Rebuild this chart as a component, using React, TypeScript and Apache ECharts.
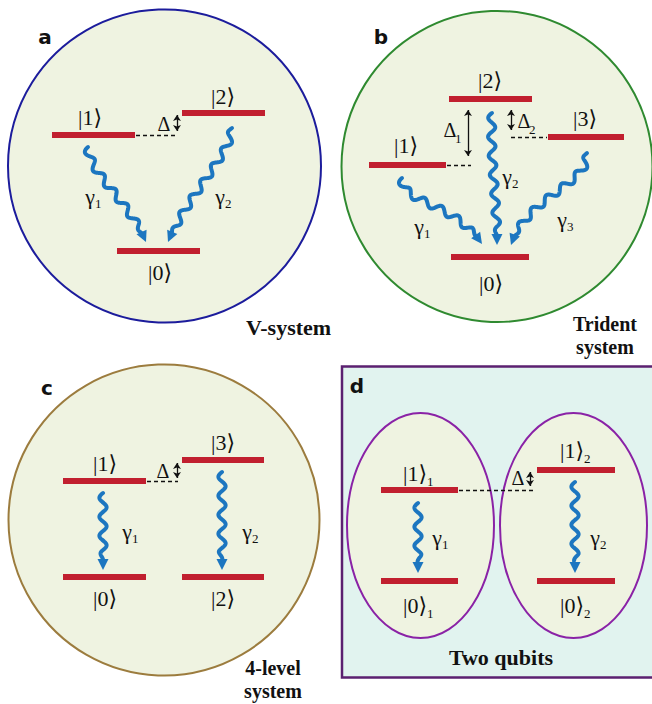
import React, { useEffect, useRef } from "react";
import * as echarts from "echarts";

type P = [number, number];

const W = 652;
const H = 704;

// energy levels: [x1, x2, y]
const LEVELS: [number, number, number][] = [
  [52, 135, 135], [182, 265, 113], [117, 200, 251],
  [369, 446, 165], [449, 532, 99], [548, 624, 137], [451, 529, 257],
  [63, 146, 481], [182, 264, 460], [63, 146, 577], [182, 264, 577],
  [381, 458, 490], [537, 615, 470], [381, 458, 581], [537, 615, 581],
];
// dashed guides: [x1, x2, y]
const DASHES: [number, number, number][] = [
  [136, 178, 135], [447, 471, 165], [511, 547, 137], [147, 178, 481], [459, 536, 490],
];
// detuning double arrows: [x, y1, y2]
const GAPS: [number, number, number][] = [
  [177, 113, 133], [468, 108, 158], [511, 108, 132], [177, 461, 480], [530, 470, 488],
];
// decay arrows: cubic centre lines [start, ctrl1, ctrl2, tip]
const DECAYS: P[][] = [
  [[88, 147], [88, 172], [128, 200], [146, 242]],
  [[232, 128], [232, 152], [186, 198], [168, 242]],
  [[402, 178], [402, 205], [452, 200], [482, 244]],
  [[492, 113], [490, 160], [497, 200], [497, 245]],
  [[587, 153], [589, 185], [528, 195], [511, 245]],
  [[103, 493], [103, 520], [103, 545], [103, 570]],
  [[222, 472], [222, 505], [222, 540], [222, 570]],
  [[418, 503], [418, 525], [418, 550], [418, 573]],
  [[575, 482], [575, 510], [575, 545], [575, 573]],
];
// ket labels: [state, subscript, x, y]
const KETS: [string, string, number, number][] = [
  ["1", "", 90, 117], ["2", "", 223, 96], ["0", "", 160, 272],
  ["2", "", 490, 80], ["3", "", 585, 118], ["1", "", 406, 145], ["0", "", 491, 283],
  ["1", "", 105, 463], ["3", "", 223, 442], ["0", "", 105, 598], ["2", "", 223, 598],
  ["1", "1", 415, 473], ["1", "2", 572, 450], ["0", "1", 415, 605], ["0", "2", 572, 605],
];
// gamma labels: [subscript, x, y]
const GAMMAS: [string, number, number][] = [
  ["1", 90, 196], ["2", 220, 196],
  ["1", 419, 226], ["2", 507, 176], ["3", 562, 219],
  ["1", 127, 531], ["2", 247, 531],
  ["1", 437, 537], ["2", 595, 537],
];
// delta labels: [subscript, x, y]
const DELTAS: [string, number, number][] = [
  ["", 164, 124], ["1", 450, 130], ["2", 524, 121], ["", 163, 471], ["", 518, 478],
];
const LETTERS: [string, number, number][] = [
  ["a", 45, 37], ["b", 381, 37], ["c", 47, 388], ["d", 357, 386],
];
// captions: [text, x, y, align, size]
const CAPTIONS: [string, number, number, string, number][] = [
  ["V-system", 246, 327, "left", 22],
  ["Trident", 605, 324, "center", 20], ["system", 605, 347, "center", 20],
  ["4-level", 273, 668, "center", 20], ["system", 273, 691, "center", 20],
  ["Two qubits", 501, 657, "center", 22],
];

const RED = "#c11f2f";
const BLUE = "#1c76c0";
const FILL = "#eff3e1";
const SERIF = "'Liberation Serif', 'DejaVu Serif', serif";
const SANS = "'DejaVu Sans', 'Noto Sans', sans-serif";

function bez(p: P[], t: number): P {
  const u = 1 - t;
  const a = u * u * u, b = 3 * u * u * t, c = 3 * u * t * t, d = t * t * t;
  return [
    a * p[0][0] + b * p[1][0] + c * p[2][0] + d * p[3][0],
    a * p[0][1] + b * p[1][1] + c * p[2][1] + d * p[3][1],
  ];
}

function wavy(p: P[]) {
  const N = 300;
  const pts: P[] = [];
  const cum: number[] = [0];
  for (let i = 0; i <= N; i++) pts.push(bez(p, i / N));
  for (let i = 1; i <= N; i++) {
    cum.push(cum[i - 1] + Math.hypot(pts[i][0] - pts[i - 1][0], pts[i][1] - pts[i - 1][1]));
  }
  const L = cum[N];
  const tip = pts[N];
  let dx = pts[N][0] - pts[N - 6][0], dy = pts[N][1] - pts[N - 6][1];
  const dl = Math.hypot(dx, dy);
  dx /= dl; dy /= dl;
  const end: P = [tip[0] - dx * 5.5, tip[1] - dy * 5.5];
  const amp = 3.6, lam = 19;
  const out: P[] = [];
  for (let i = 0; i <= N; i++) {
    const s = cum[i];
    if (s > L - 7) break;
    const j = Math.min(i + 1, N), k = Math.max(i - 1, 0);
    let tx = pts[j][0] - pts[k][0], ty = pts[j][1] - pts[k][1];
    const tl = Math.hypot(tx, ty) || 1;
    tx /= tl; ty /= tl;
    const taper = Math.max(0, Math.min(1, (L - 9 - s) / 10));
    const o = amp * Math.sin((2 * Math.PI * s) / lam) * taper;
    out.push([pts[i][0] - ty * o, pts[i][1] + tx * o]);
  }
  out.push(end);
  const head: P[] = [[end[0] - dx * 3, end[1] - dy * 3], end];
  return { line: out, head };
}

function txt(text: string, x: number, y: number, size: number, family: string, weight = "normal", align = "center") {
  return {
    type: "text",
    z: 100,
    style: {
      text, x, y,
      fontSize: size, fontFamily: family, fontWeight: weight,
      fill: "#111",
      align, verticalAlign: "middle",
      textAlign: align, textVerticalAlign: "middle",
    },
  };
}

export default function App() {
  const ref = useRef<HTMLDivElement>(null);
  useEffect(() => {
    if (!ref.current) return;
    const chart = echarts.init(ref.current, null, { renderer: "svg" });
    const waves = DECAYS.map(wavy);

    const graphics: any[] = [
      { type: "circle", z: 0, shape: { cx: 164.5, cy: 166, r: 156.5 }, style: { fill: FILL, stroke: "#1c1c9c", lineWidth: 2 } },
      { type: "circle", z: 0, shape: { cx: 497, cy: 166.5, r: 155.5 }, style: { fill: FILL, stroke: "#2f8a30", lineWidth: 2 } },
      { type: "circle", z: 0, shape: { cx: 164, cy: 520, r: 155.5 }, style: { fill: FILL, stroke: "#9c7c3e", lineWidth: 2 } },
      { type: "rect", z: 0, shape: { x: 342, y: 366.5, width: 330, height: 311 }, style: { fill: "#e1f3ef", stroke: "#5b2070", lineWidth: 2.5 } },
      { type: "ellipse", z: 1, shape: { cx: 420.5, cy: 525.5, rx: 73.5, ry: 112.5 }, style: { fill: FILL, stroke: "#8a22a6", lineWidth: 2 } },
      { type: "ellipse", z: 1, shape: { cx: 573.5, cy: 525.5, rx: 73.5, ry: 112.5 }, style: { fill: FILL, stroke: "#8a22a6", lineWidth: 2 } },
    ];
    KETS.forEach(([n, sub, x, y]) => {
      graphics.push(txt("|" + n + "\u27E9", x, y, 22, SERIF));
      if (sub) graphics.push(txt(sub, x + 12, y + 8, 13, SERIF, "normal", "left"));
    });
    GAMMAS.forEach(([sub, x, y]) => {
      graphics.push(txt("\u03B3", x, y, 22, SERIF));
      graphics.push(txt(sub, x + 5, y + 7, 13, SERIF, "normal", "left"));
    });
    DELTAS.forEach(([sub, x, y]) => {
      graphics.push(txt("\u0394", x, y, 20, SERIF));
      if (sub) graphics.push(txt(sub, x + 5, y + 8, 13, SERIF, "normal", "left"));
    });
    LETTERS.forEach(([t, x, y]) => graphics.push(txt(t, x, y, 20, SANS, "bold")));
    CAPTIONS.forEach(([t, x, y, a, s]) => graphics.push(txt(t, x, y, s, SERIF, "bold", a)));

    chart.setOption({
      animation: false,
      grid: { left: 0, right: 0, top: 0, bottom: 0 },
      xAxis: { type: "value", min: 0, max: W, show: false },
      yAxis: { type: "value", min: 0, max: H, inverse: true, show: false },
      graphic: graphics,
      series: [
        {
          type: "lines", coordinateSystem: "cartesian2d", silent: true, z: 5,
          symbol: "none",
          lineStyle: { color: RED, width: 6, opacity: 1, cap: "butt" },
          data: LEVELS.map(([x1, x2, y]) => ({ coords: [[x1, y], [x2, y]] })),
        },
        {
          type: "lines", coordinateSystem: "cartesian2d", silent: true, z: 5,
          symbol: "none",
          lineStyle: { color: "#111", width: 1.3, opacity: 1, type: [4, 3] },
          data: DASHES.map(([x1, x2, y]) => ({ coords: [[x1, y], [x2, y]] })),
        },
        {
          type: "lines", coordinateSystem: "cartesian2d", silent: true, z: 5,
          symbol: ["arrow", "arrow"], symbolSize: 6,
          lineStyle: { color: "#111", width: 1.3, opacity: 1 },
          data: GAPS.map(([x, y1, y2]) => ({ coords: [[x, y1 + 2], [x, y2 - 2]] })),
        },
        {
          type: "lines", coordinateSystem: "cartesian2d", silent: true, z: 6,
          polyline: true, symbol: "none",
          lineStyle: { color: BLUE, width: 4, opacity: 1, cap: "round", join: "round" },
          data: waves.map((w) => ({ coords: w.line })),
        },
        {
          type: "lines", coordinateSystem: "cartesian2d", silent: true, z: 6,
          symbol: ["none", "triangle"], symbolSize: 11,
          lineStyle: { color: BLUE, width: 4, opacity: 1 },
          itemStyle: { color: BLUE },
          data: waves.map((w) => ({ coords: w.head })),
        },
      ],
    });
    return () => chart.dispose();
  }, []);
  return (
    <div
      ref={ref}
      style={{ position: "fixed", left: 0, top: 0, width: W, height: H, background: "#fff" }}
    />
  );
}
